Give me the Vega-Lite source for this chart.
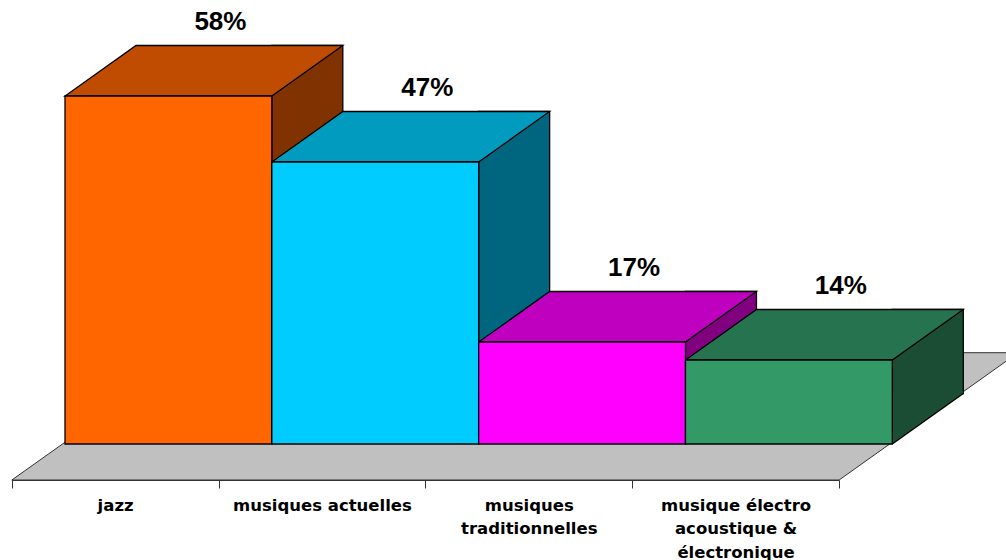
{
  "$schema": "https://vega.github.io/schema/vega-lite/v6.json",
  "autosize": {"type": "none"},
  "padding": {"left": 0, "top": 0, "right": 0, "bottom": 80},
  "width": 1006,
  "height": 480,
  "background": "white",
  "config": {"view": {"stroke": null}},
  "data": {
    "values": [
      {"cat": "jazz", "value": 0.58},
      {"cat": "musiques actuelles", "value": 0.47},
      {"cat": "musiques traditionnelles", "value": 0.17},
      {"cat": "musique électro acoustique & électronique", "value": 0.14}
    ]
  },
  "resolve": {"scale": {"x": "independent", "color": "independent"}},
  "layer": [
    {
      "transform": [{"filter": "datum.cat == 'jazz'"}],
      "mark": {"type": "point", "shape": "M -103.3 36 L 724 36 L 903 -91.3 L 76 -91.3 Z", "size": 4, "filled": true, "fill": "#C0C0C0", "stroke": "#333333", "strokeWidth": 1, "opacity": 1},
      "encoding": {
        "x": {"field": "cat", "type": "nominal", "sort": null,
          "scale": {"type": "band", "domain": ["jazz", "musiques actuelles", "musiques traditionnelles", "musique électro acoustique & électronique"], "range": [11.7, 839], "paddingInner": 0, "paddingOuter": 0},
          "axis": {"title": null, "orient": "bottom", "tickBand": "extent", "tickSize": 8, "tickColor": "#333333", "domainColor": "#333333", "labelFont": "DejaVu Sans", "labelFontWeight": "bold", "labelFontSize": 16.5, "labelColor": "black", "labelPadding": 9, "labelBaseline": "top", "labelLineHeight": 23.5, "labelAngle": 0, "labelLimit": 400, "labelOverlap": false,
            "labelExpr": "datum.label == 'musiques traditionnelles' ? ['musiques', 'traditionnelles'] : datum.label == 'musique électro acoustique & électronique' ? ['musique électro', 'acoustique &', 'électronique'] : datum.label"}},
        "y": {"datum": 0, "type": "quantitative", "scale": {"domain": [0, 0.58], "range": [444, 96], "nice": false, "zero": false}, "axis": null}
      }
    },
    {
      "mark": {"type": "bar", "width": 71, "xOffset": 138.9, "yOffset": -50.5, "y2Offset": -50.5, "stroke": "black", "strokeWidth": 1.3},
      "encoding": {
        "x": {"field": "cat", "type": "nominal", "sort": null, "scale": {"type": "band", "domain": ["jazz", "musiques actuelles", "musiques traditionnelles", "musique électro acoustique & électronique"], "range": [65, 892.3], "paddingInner": 0, "paddingOuter": 0}, "axis": null},
        "y": {"field": "value", "type": "quantitative", "scale": {"domain": [0, 0.58], "range": [444, 96], "nice": false, "zero": false}, "axis": null},
        "y2": {"datum": 0},
        "color": {"field": "cat", "type": "nominal", "scale": {"domain": ["jazz", "musiques actuelles", "musiques traditionnelles", "musique électro acoustique & électronique"], "range": ["#803300", "#006680", "#800080", "#1A4D33"]}, "legend": null}
      }
    },
    {
      "mark": {"type": "point", "shape": "M 103.4 0 L 174.4 -50.5 L 174.4 -53 L 103.4 -53 Z", "size": 4, "filled": true, "strokeWidth": 0, "opacity": 1},
      "encoding": {
        "x": {"field": "cat", "type": "nominal", "sort": null, "scale": {"type": "band", "domain": ["jazz", "musiques actuelles", "musiques traditionnelles", "musique électro acoustique & électronique"], "range": [65, 892.3], "paddingInner": 0, "paddingOuter": 0}, "axis": null},
        "y": {"datum": 0, "type": "quantitative", "axis": null},
        "color": {"field": "cat", "type": "nominal", "scale": {"domain": ["jazz", "musiques actuelles", "musiques traditionnelles", "musique électro acoustique & électronique"], "range": ["#803300", "#006680", "#800080", "#1A4D33"]}, "legend": null}
      }
    },
    {
      "mark": {"type": "point", "shape": "M 103.4 0 L 174.4 -50.5", "size": 4, "filled": false, "color": "black", "strokeWidth": 1.3, "opacity": 1},
      "encoding": {
        "x": {"field": "cat", "type": "nominal", "sort": null, "scale": {"type": "band", "domain": ["jazz", "musiques actuelles", "musiques traditionnelles", "musique électro acoustique & électronique"], "range": [65, 892.3], "paddingInner": 0, "paddingOuter": 0}, "axis": null},
        "y": {"datum": 0, "type": "quantitative", "axis": null}
      }
    },
    {
      "mark": {"type": "point", "shape": "M -103.4 0 L 103.4 0 L 174.4 -50.5 L -32.4 -50.5 Z", "size": 4, "filled": true, "stroke": "black", "strokeWidth": 1.3, "opacity": 1},
      "encoding": {
        "x": {"field": "cat", "type": "nominal", "sort": null, "scale": {"type": "band", "domain": ["jazz", "musiques actuelles", "musiques traditionnelles", "musique électro acoustique & électronique"], "range": [65, 892.3], "paddingInner": 0, "paddingOuter": 0}, "axis": null},
        "y": {"field": "value", "type": "quantitative", "axis": null},
        "color": {"field": "cat", "type": "nominal", "scale": {"domain": ["jazz", "musiques actuelles", "musiques traditionnelles", "musique électro acoustique & électronique"], "range": ["#BF4C00", "#009BBF", "#BF00BF", "#267350"]}, "legend": null}
      }
    },
    {
      "mark": {"type": "bar", "stroke": "black", "strokeWidth": 1.3},
      "encoding": {
        "x": {"field": "cat", "type": "nominal", "sort": null, "scale": {"type": "band", "domain": ["jazz", "musiques actuelles", "musiques traditionnelles", "musique électro acoustique & électronique"], "range": [65, 892.3], "paddingInner": 0, "paddingOuter": 0}, "axis": null},
        "y": {"field": "value", "type": "quantitative", "axis": null},
        "y2": {"datum": 0},
        "color": {"field": "cat", "type": "nominal", "scale": {"domain": ["jazz", "musiques actuelles", "musiques traditionnelles", "musique électro acoustique & électronique"], "range": ["#FF6600", "#00CCFF", "#FF00FF", "#339966"]}, "legend": null}
      }
    },
    {
      "mark": {"type": "text", "font": "Liberation Sans", "fontWeight": "bold", "fontSize": 26, "dx": 52, "dy": -74, "baseline": "middle", "align": "center", "color": "black"},
      "encoding": {
        "x": {"field": "cat", "type": "nominal", "sort": null, "scale": {"type": "band", "domain": ["jazz", "musiques actuelles", "musiques traditionnelles", "musique électro acoustique & électronique"], "range": [65, 892.3], "paddingInner": 0, "paddingOuter": 0}, "axis": null},
        "y": {"field": "value", "type": "quantitative", "axis": null},
        "text": {"field": "value", "type": "quantitative", "format": ".0%"}
      }
    }
  ]
}
